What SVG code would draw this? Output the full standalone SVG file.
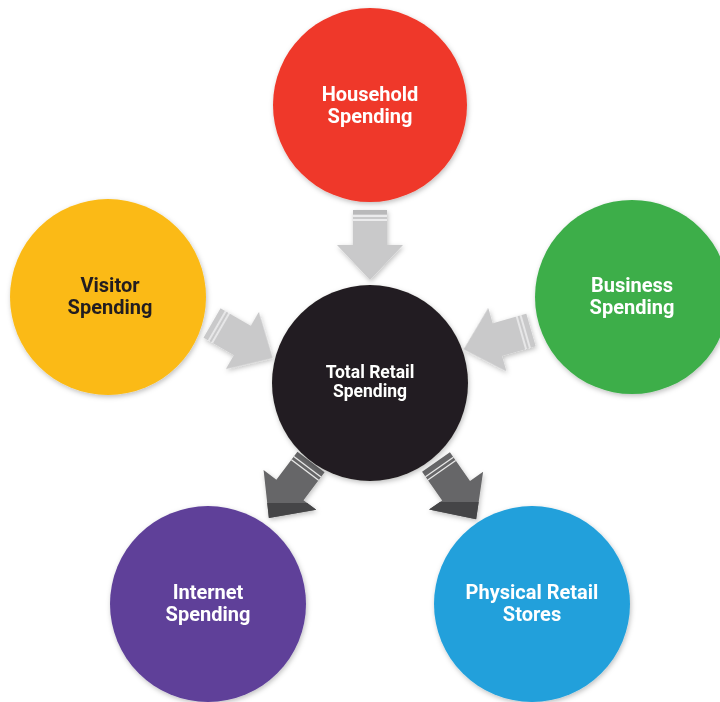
<svg xmlns="http://www.w3.org/2000/svg" width="720" height="702" viewBox="0 0 720 702">
<style>
.lbl{font-family:Roboto,"Liberation Sans",sans-serif;font-weight:700;font-size:20px;fill:#fff;text-anchor:middle}
.sm{font-size:17.5px}
.dk{fill:#231f20}
.la{fill:#c9c9ca}
.da{fill:#666667}
.stripe{stroke:#fff;stroke-width:1.3;opacity:0.85}
</style>
<defs>
<filter id="sh" x="-20%" y="-20%" width="140%" height="140%">
<feDropShadow dx="1" dy="2" stdDeviation="2.5" flood-color="#000" flood-opacity="0.25"/>
</filter>
<path id="arr" d="M0,-17 L35,-17 L35,-33 L70,0 L35,33 L35,17 L0,17 Z"/>
<clipPath id="arrclip"><use href="#arr"/></clipPath>
<g id="stripes">
<line class="stripe" x1="6" y1="-17" x2="6" y2="17"/>
<line class="stripe" x1="10" y1="-17" x2="10" y2="17"/>
</g>
</defs>
<rect width="720" height="702" fill="#fff"/>
<g id="connectors">
<g filter="url(#sh)">
<g transform="translate(370,210) rotate(90)"><use href="#arr" class="la"/><rect x="0" y="-17" width="4" height="34" fill="#b9b9ba"/><use href="#stripes"/></g>
<g transform="translate(212,323) rotate(30)"><use href="#arr" class="la"/><use href="#stripes"/></g>
<g transform="translate(531,330) rotate(164)"><use href="#arr" class="la"/><use href="#stripes"/></g>
</g>
<g filter="url(#sh)">
<g transform="translate(311,462) rotate(127)"><use href="#arr" class="da"/><use href="#stripes"/>
<g clip-path="url(#arrclip)"><g transform="rotate(-127) translate(-311,-462)"><rect x="240" y="503" width="100" height="30" fill="#454546"/></g></g></g>
<g transform="translate(436,462) rotate(55)"><use href="#arr" class="da"/><use href="#stripes"/>
<g clip-path="url(#arrclip)"><g transform="rotate(-55) translate(-436,-462)"><rect x="400" y="502" width="100" height="30" fill="#454546"/></g></g></g>
</g>
</g>
<g id="household" filter="url(#sh)"><circle cx="370" cy="105" r="97" fill="#ef3829"/><text class="lbl" x="370" y="101">Household</text><text class="lbl" x="370" y="123">Spending</text></g>
<g id="visitor" filter="url(#sh)"><circle cx="108" cy="297" r="98" fill="#fbba14"/><text class="lbl dk" x="110" y="292">Visitor</text><text class="lbl dk" x="110" y="314">Spending</text></g>
<g id="business" filter="url(#sh)"><circle cx="632" cy="297" r="97" fill="#3dae4a"/><text class="lbl" x="632" y="292">Business</text><text class="lbl" x="632" y="314">Spending</text></g>
<g id="total" filter="url(#sh)"><circle cx="370" cy="383" r="98" fill="#231f20"/><text class="lbl sm" x="370" y="378">Total Retail</text><text class="lbl sm" x="370" y="397">Spending</text></g>
<g id="internet" filter="url(#sh)"><circle cx="208" cy="604" r="98" fill="#5e4099"/><text class="lbl" x="208" y="599">Internet</text><text class="lbl" x="208" y="621">Spending</text></g>
<g id="physical" filter="url(#sh)"><circle cx="532" cy="604" r="98" fill="#21a0db"/><text class="lbl" x="532" y="599">Physical Retail</text><text class="lbl" x="532" y="621">Stores</text></g>
</svg>
